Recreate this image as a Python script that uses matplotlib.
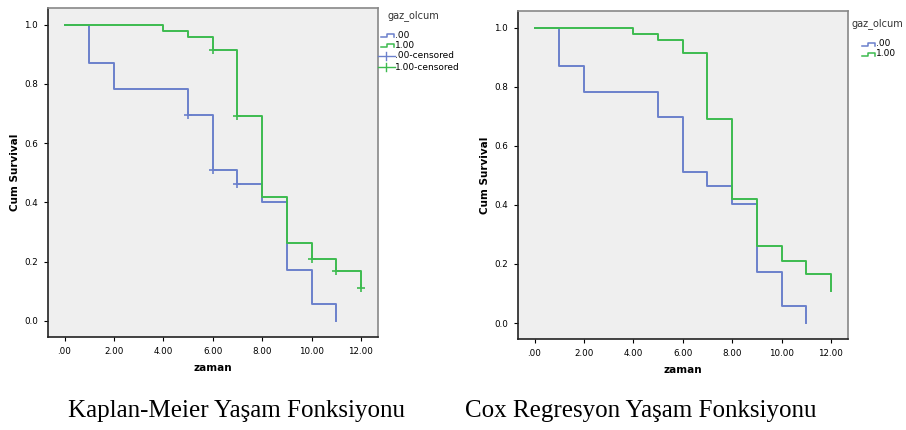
import matplotlib.pyplot as plt
from matplotlib.lines import Line2D

# survival step data per gaz_olcum group
blue_t = [0, 1, 2, 5, 6, 7, 8, 9, 10, 11]
blue_s = [1.0, 0.87, 0.783, 0.696, 0.51, 0.463, 0.402, 0.172, 0.057, 0.0]
green_t = [0, 4, 5, 6, 7, 8, 9, 10, 11, 12]
green_s = [1.0, 0.978, 0.957, 0.913, 0.69, 0.42, 0.262, 0.209, 0.167, 0.11]

# censored points (Kaplan-Meier only)
blue_cens_t = [5, 6, 7]
blue_cens_s = [0.696, 0.51, 0.463]
green_cens_t = [6, 7, 10, 11, 12]
green_cens_s = [0.913, 0.69, 0.209, 0.167, 0.11]

xticks = [0, 2, 4, 6, 8, 10, 12]
xticklabels = ['.00', '2.00', '4.00', '6.00', '8.00', '10.00', '12.00']
yticks = [0.0, 0.2, 0.4, 0.6, 0.8, 1.0]
yticklabels = ['0.0', '0.2', '0.4', '0.6', '0.8', '1.0']

BLUE = '#6b80cc'
GREEN = '#3dbb4f'
BG = '#efefef'

fig = plt.figure(figsize=(9.06, 4.3), dpi=100)
W, H = 906, 430


def style_ax(ax):
    ax.set_facecolor(BG)
    ax.set_xlim(-0.67, 12.69)
    ax.set_ylim(-0.054, 1.056)
    ax.set_xticks(xticks)
    ax.set_xticklabels(xticklabels, fontsize=6.3)
    ax.set_yticks(yticks)
    ax.set_yticklabels(yticklabels, fontsize=6.3)
    ax.tick_params(length=3, width=0.8, pad=4)
    for s in ['left', 'bottom']:
        ax.spines[s].set_color('#222222')
        ax.spines[s].set_linewidth(1.2)
    for s in ['top', 'right']:
        ax.spines[s].set_color('#888888')
        ax.spines[s].set_linewidth(1.2)
    ax.set_xlabel('zaman', fontsize=7.5, fontweight='bold', labelpad=5)
    ax.set_ylabel('Cum Survival', fontsize=7.5, fontweight='bold', labelpad=3)


ax1 = fig.add_axes([48 / W, 1 - 337 / H, 330 / W, 329 / H])
ax1.step(blue_t, blue_s, where='post', color=BLUE, lw=1.4)
ax1.step(green_t, green_s, where='post', color=GREEN, lw=1.4)
ax1.plot(blue_cens_t, blue_cens_s, '+', color=BLUE, ms=6, mew=1.2)
ax1.plot(green_cens_t, green_cens_s, '+', color=GREEN, ms=6, mew=1.2)
style_ax(ax1)

ax2 = fig.add_axes([518 / W, 1 - 339 / H, 330 / W, 328 / H])
ax2.step(blue_t, blue_s, where='post', color=BLUE, lw=1.4)
ax2.step(green_t, green_s, where='post', color=GREEN, lw=1.4)
style_ax(ax2)


# legend drawn by hand in pixel coords
def px(x, y):
    return x / W, 1 - y / H


def step_icon(x0, y, color):
    xs = [x0, x0 + 6, x0 + 6, x0 + 13, x0 + 13]
    ys = [y + 1.5, y + 1.5, y - 1.5, y - 1.5, y + 1.5]
    fig.add_artist(Line2D([v / W for v in xs], [1 - v / H for v in ys],
                          color=color, lw=1.1))


def cens_icon(x0, y, color):
    fig.add_artist(Line2D([x0 / W, (x0 + 17) / W], [1 - y / H, 1 - y / H],
                          color=color, lw=1.0))
    fig.add_artist(Line2D([(x0 + 8) / W] * 2, [1 - (y - 4) / H, 1 - (y + 4) / H],
                          color=color, lw=1.0))


fig.text(*px(388, 16), 'gaz_olcum', fontsize=7, va='center', color='#333333')
step_icon(381, 35, BLUE)
fig.text(*px(395, 35), '.00', fontsize=6.5, va='center')
step_icon(381, 45, GREEN)
fig.text(*px(395, 45), '1.00', fontsize=6.5, va='center')
cens_icon(378, 56, BLUE)
fig.text(*px(395, 56), '.00-censored', fontsize=6.5, va='center')
cens_icon(378, 67, GREEN)
fig.text(*px(395, 67), '1.00-censored', fontsize=6.5, va='center')

fig.text(*px(852, 24), 'gaz_olcum', fontsize=7, va='center', color='#333333')
step_icon(862, 44, BLUE)
fig.text(*px(876, 44), '.00', fontsize=6.5, va='center')
step_icon(862, 54, GREEN)
fig.text(*px(876, 54), '1.00', fontsize=6.5, va='center')

fig.text(*px(236, 411), 'Kaplan-Meier Yaşam Fonksiyonu', fontsize=18,
         family='Liberation Serif', ha='center', va='center')
fig.text(*px(641, 411), 'Cox Regresyon Yaşam Fonksiyonu', fontsize=18,
         family='Liberation Serif', ha='center', va='center')

fig.savefig('out.png', dpi=100)
